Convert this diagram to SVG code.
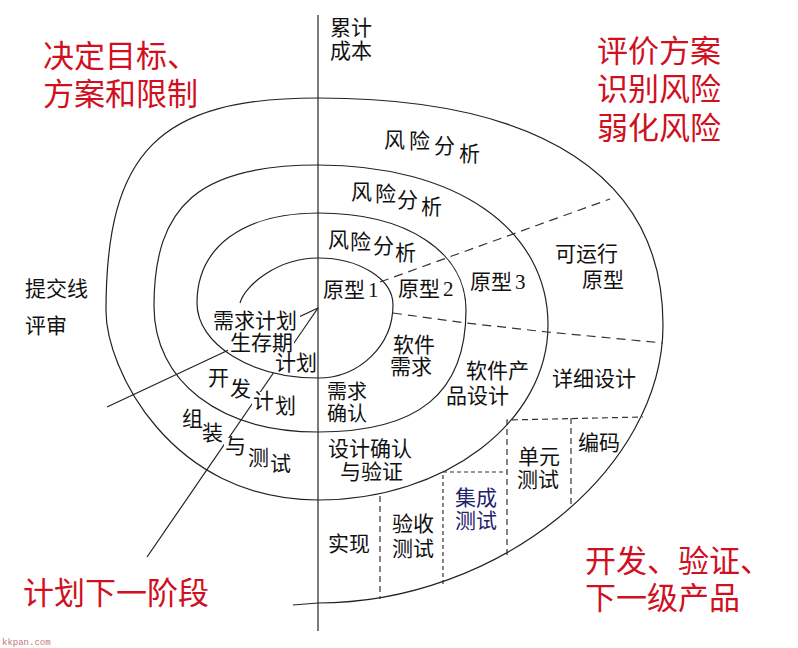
<svg xmlns="http://www.w3.org/2000/svg" width="798" height="648" viewBox="0 0 798 648">
<style>
.ln{fill:none;stroke:#222;stroke-width:1.2}
.dl{fill:none;stroke:#333;stroke-width:1.2;stroke-dasharray:9 6}
.db{fill:none;stroke:#333;stroke-width:1.2;stroke-dasharray:6 4}
.df{fill:none;stroke:#333;stroke-width:1.2;stroke-dasharray:4 3}
.t{font-family:"Liberation Serif","Noto Sans CJK SC",serif;font-size:21px;fill:#111}
.r{font-family:"Liberation Sans","Noto Sans CJK SC",sans-serif;font-size:31px;fill:#d0101e}
.bg{fill:#fff}
</style>
<rect width="798" height="648" fill="#fff"/>
<g id="connectors">
<line class="ln" x1="318" y1="15" x2="318" y2="631"/>
<line class="ln" x1="318" y1="308" x2="107" y2="407"/>
<line class="ln" x1="318" y1="308" x2="147" y2="557"/>
</g>
<g id="label-backing">
<rect class="bg" x="212" y="309" width="88" height="22"/>
<rect class="bg" x="228" y="331" width="66" height="22"/>
<rect class="bg" x="273" y="352" width="42" height="21"/>
<rect class="bg" x="207" y="369" width="22" height="19"/>
<rect class="bg" x="229" y="378" width="23" height="21"/>
<rect class="bg" x="252" y="392" width="22" height="19"/>
<rect class="bg" x="274" y="397" width="22" height="19"/>
<rect class="bg" x="201" y="422" width="23" height="20"/>
<rect class="bg" x="224" y="438" width="22" height="19"/>
</g>
<g id="spiral">
<path class="ln" d="M240 303 C245 285 278 258 318 258 C359.4 258 393 279.1 393 305 C393 345.3 359.4 378 318 378 C251.2 378 197 344.4 197 303 C197 247.2 243 213 318 213 C406.8 213 466 251.8 466 310 C466 393 418.6 432 318 432 C219.6 432 154 381.6 154 306 C154 204.5 200 165 318 165 C456 165 548 229 548 325 C548 421.6 445 500 318 500 C169.6 500 106 367.7 106 311 C106 151.25 159 98 318 98 C542 98 663 177.5 663 325 C663 469.6 497.4 603 318 603 L293 605"/>
</g>
<g id="dividers">
<line class="dl" x1="380" y1="282" x2="610" y2="199"/>
<polyline class="dl" points="393,313 466,323 547,332 663,343"/>
<polyline class="db" points="507,555 507,420 643,417"/>
<line class="db" x1="571" y1="418" x2="571" y2="508"/>
<polyline class="df" points="443,584 443,472 507,472"/>
<line class="db" x1="380" y1="496" x2="380" y2="599"/>
</g>
<g id="axis-label"><text class="t" x="330" y="35">累计</text><text class="t" x="330" y="58">成本</text></g>
<g id="quadrant-tl"><text class="r" x="43" y="67">决定目标、</text><text class="r" x="43" y="105">方案和限制</text></g>
<g id="quadrant-tr"><text class="r" x="597" y="62">评价方案</text><text class="r" x="597" y="100">识别风险</text><text class="r" x="597" y="139">弱化风险</text></g>
<g id="quadrant-bl"><text class="r" x="23" y="604">计划下一阶段</text></g>
<g id="quadrant-br"><text class="r" x="585" y="572">开发、验证、</text><text class="r" x="585" y="609">下一级产品</text></g>
<g id="commit-line"><text class="t" x="25" y="296">提交线</text><text class="t" x="25" y="333">评审</text></g>
<g id="risk-3"><text class="t" x="384" y="147">风</text><text class="t" x="409" y="148">险</text><text class="t" x="434" y="153">分</text><text class="t" x="459" y="161">析</text></g>
<g id="risk-2"><text class="t" x="351" y="199">风</text><text class="t" x="375" y="201">险</text><text class="t" x="397" y="207">分</text><text class="t" x="421" y="214">析</text></g>
<g id="risk-1"><text class="t" x="328" y="247">风</text><text class="t" x="350" y="249">险</text><text class="t" x="373" y="253">分</text><text class="t" x="395" y="260">析</text></g>
<g id="proto-1"><text class="t" x="323" y="297">原型<tspan dx="3">1</tspan></text></g>
<g id="proto-2"><text class="t" x="398" y="296">原型<tspan dx="3">2</tspan></text></g>
<g id="proto-3"><text class="t" x="470" y="289">原型<tspan dx="3">3</tspan></text></g>
<g id="proto-run"><text class="t" x="555" y="261">可运行</text><text class="t" x="582" y="287">原型</text></g>
<g id="sw-req"><text class="t" x="393" y="352">软件</text><text class="t" x="390" y="374">需求</text></g>
<g id="req-confirm"><text class="t" x="327" y="399" style="font-size:20px">需求</text><text class="t" x="327" y="421" style="font-size:20px">确认</text></g>
<g id="product-design"><text class="t" x="466" y="378">软件产</text><text class="t" x="446" y="403">品设计</text></g>
<g id="detail-design"><text class="t" x="552" y="386">详细设计</text></g>
<g id="design-verify"><text class="t" x="328" y="456">设计确认</text><text class="t" x="340" y="479">与验证</text></g>
<g id="unit-test"><text class="t" x="518" y="464">单元</text><text class="t" x="517" y="487">测试</text></g>
<g id="coding"><text class="t" x="578" y="450">编码</text></g>
<g id="integration-test"><text class="t" x="455" y="505" style="fill:#23236a">集成</text><text class="t" x="455" y="528" style="fill:#23236a">测试</text></g>
<g id="acceptance-test"><text class="t" x="392" y="531">验收</text><text class="t" x="392" y="556">测试</text></g>
<g id="implementation"><text class="t" x="328" y="551">实现</text></g>
<g id="req-plan"><text class="t" x="213" y="328">需求计划</text></g>
<g id="life-plan"><text class="t" x="230" y="350">生存期</text><text class="t" x="275" y="370">计划</text></g>
<g id="dev-plan"><text class="t" x="208" y="385">开</text><text class="t" x="230" y="396">发</text><text class="t" x="253" y="408">计</text><text class="t" x="275" y="413">划</text></g>
<g id="assembly-test"><text class="t" x="182" y="426">组</text><text class="t" x="202" y="440">装</text><text class="t" x="225" y="453">与</text><text class="t" x="248" y="465">测</text><text class="t" x="270" y="471">试</text></g>
<g id="watermark"><text x="2" y="645" style="font-family:'Liberation Mono',monospace;font-size:9px;fill:#c07878">kkpan.com</text></g>
</svg>
